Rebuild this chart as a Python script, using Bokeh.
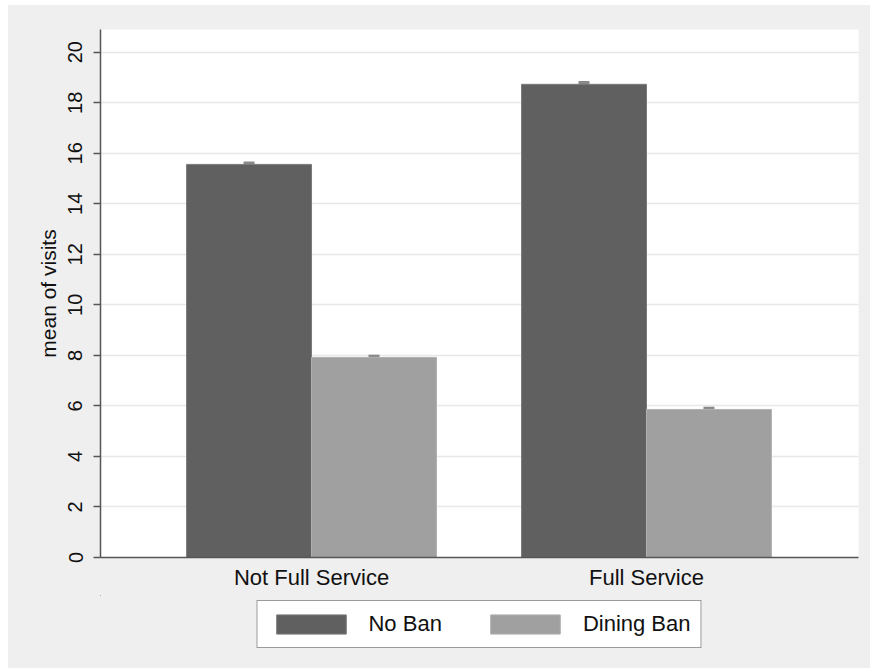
from bokeh.plotting import figure
from bokeh.layouts import column
from bokeh.models import (ColumnDataSource, Range1d, FixedTicker, Legend, LegendItem,
                          Whisker, TeeHead)
from bokeh.embed import file_html
from bokeh.resources import INLINE

# ---- data ----
categories = ["Not Full Service", "Full Service"]
series_names = ["No Ban", "Dining Ban"]
no_ban = [15.56, 18.73]
dining_ban = [7.92, 5.86]
no_ban_err = [0.06, 0.07]
dining_ban_err = [0.05, 0.05]
y_ticks = [0, 2, 4, 6, 8, 10, 12, 14, 16, 18, 20]

FONT = "Liberation Sans"
DARK = "#606060"
LIGHT = "#a0a0a0"
BG = "#efefef"

pos = [i + 1 for i in range(len(categories))]
bw = 0.373
off = bw / 2

src_nb = ColumnDataSource(dict(
    x=[p - off for p in pos], top=no_ban,
    upper=[v + e for v, e in zip(no_ban, no_ban_err)],
    lower=[v - e for v, e in zip(no_ban, no_ban_err)]))
src_db = ColumnDataSource(dict(
    x=[p + off for p in pos], top=dining_ban,
    upper=[v + e for v, e in zip(dining_ban, dining_ban_err)],
    lower=[v - e for v, e in zip(dining_ban, dining_ban_err)]))

p = figure(width=862, height=590, output_backend="svg", toolbar_location=None,
           x_range=Range1d(0.37, 2.633), y_range=Range1d(0, 20.9),
           min_border_left=92, min_border_top=24, min_border_right=12,
           min_border_bottom=38)
p.background_fill_color = "white"
p.border_fill_color = BG
p.outline_line_color = None

r1 = p.vbar(x="x", top="top", width=bw, source=src_nb, fill_color=DARK,
            line_color="#7a7a7a", line_width=1)
r2 = p.vbar(x="x", top="top", width=bw, source=src_db, fill_color=LIGHT,
            line_color="#b0b0b0", line_width=1)

for src in (src_nb, src_db):
    w = Whisker(base="x", upper="upper", lower="lower", source=src,
                line_color="#8a8a8a", line_width=2,
                upper_head=TeeHead(size=11, line_color="#8a8a8a", line_width=3),
                lower_head=TeeHead(size=11, line_color="#8a8a8a", line_width=3))
    p.add_layout(w)

# grid
p.xgrid.grid_line_color = None
p.ygrid.grid_line_color = "#e8e8e8"
p.ygrid.grid_line_width = 1.5
p.ygrid.ticker = FixedTicker(ticks=y_ticks)

# y axis
ya = p.yaxis[0]
ya.ticker = FixedTicker(ticks=y_ticks)
ya.axis_label = "mean of visits"
ya.axis_label_text_font = FONT
ya.axis_label_text_font_size = "21px"
ya.axis_label_text_font_style = "normal"
ya.axis_label_text_color = "#111111"
ya.axis_label_standoff = 6
ya.major_label_orientation = "vertical"
ya.major_label_text_font = FONT
ya.major_label_text_font_size = "20px"
ya.major_label_text_color = "#111111"
ya.major_label_standoff = 11
ya.axis_line_color = "#555555"
ya.axis_line_width = 1.5
ya.major_tick_line_color = "#555555"
ya.major_tick_line_width = 1.5
ya.major_tick_out = 7
ya.major_tick_in = 0
ya.minor_tick_line_color = None

# x axis
xa = p.xaxis[0]
xa.ticker = FixedTicker(ticks=pos)
xa.major_label_overrides = {pp: c for pp, c in zip(pos, categories)}
xa.major_label_text_font = FONT
xa.major_label_text_font_size = "22px"
xa.major_label_text_color = "#111111"
xa.major_label_standoff = 7
xa.axis_line_color = "#555555"
xa.axis_line_width = 1.5
xa.major_tick_line_color = None
xa.major_tick_out = 0
xa.minor_tick_line_color = None

# ---- legend strip: same series, viewed where no bar falls ----
lg = figure(width=862, height=73, output_backend="svg", toolbar_location=None,
            x_range=Range1d(50, 51), y_range=Range1d(-60, -59),
            min_border_left=92, min_border_right=12, min_border_top=0,
            min_border_bottom=0)
lg.axis.visible = False
lg.grid.visible = False
lg.outline_line_color = None
lg.background_fill_color = None
lg.border_fill_color = BG
l1 = lg.vbar(x="x", top="top", width=bw, source=src_nb, fill_color=DARK,
             line_color="#7a7a7a", line_width=1)
l2 = lg.vbar(x="x", top="top", width=bw, source=src_db, fill_color=LIGHT,
             line_color="#b0b0b0", line_width=1)

legend = Legend(items=[LegendItem(label=series_names[0], renderers=[l1]),
                       LegendItem(label=series_names[1], renderers=[l2])],
                orientation="horizontal", location="top_center",
                label_text_font=FONT, label_text_font_size="22px",
                label_text_color="#111111",
                glyph_width=87, glyph_height=24, label_standoff=14,
                spacing=40, padding=10, margin=5,
                border_line_color="#333333", border_line_width=1.5,
                background_fill_color="white", background_fill_alpha=1)
lg.add_layout(legend, "center")

layout = column(p, lg, spacing=0, margin=(5, 0, 0, 8),
                styles={"background-color": BG})
open("out.html", "w").write(file_html(layout, INLINE))
